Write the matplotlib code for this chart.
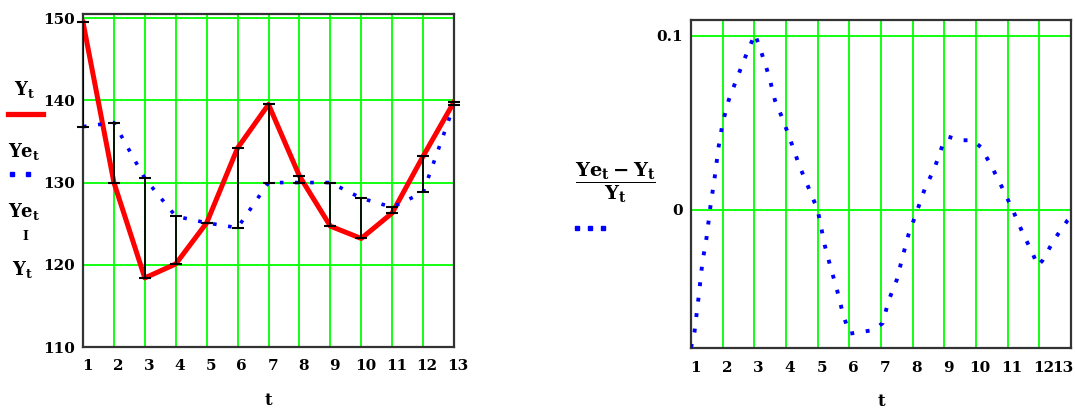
import matplotlib.pyplot as plt
import matplotlib.transforms as mtransforms
from matplotlib.lines import Line2D

t = [1, 2, 3, 4, 5, 6, 7, 8, 9, 10, 11, 12, 13]
Y = [149.5, 130.0, 118.4, 120.1, 125.1, 134.2, 139.5, 130.8, 124.7, 123.2, 126.3, 133.2, 139.8]
Ye = [136.8, 137.3, 130.5, 125.9, 125.1, 124.5, 130.0, 130.0, 130.0, 128.1, 127.0, 128.8, 139.4]

# errore relativo (Ye_t - Y_t) / Y_t, punti letti lungo la curva di destra
t_rel = [1.00, 1.11, 1.24, 1.36, 1.49, 1.62, 1.75, 1.87, 2.00, 2.19, 2.46, 2.72, 3.02,
         3.23, 3.46, 3.65, 3.90, 4.18, 4.43, 4.73, 5.00, 5.22, 5.41, 5.60, 5.79, 6.00,
         6.36, 6.74, 7.05, 7.24, 7.50, 7.68, 7.87, 8.13, 8.38, 8.69, 8.94, 9.13, 9.50,
         9.89, 10.16, 10.52, 10.85, 11.16, 11.47, 11.79, 11.95, 12.10, 12.47, 12.89, 13.00]
err_rel = [-0.079, -0.070, -0.050, -0.030, -0.016, 0.003, 0.019, 0.036, 0.050, 0.063, 0.076,
           0.088, 0.101, 0.090, 0.077, 0.063, 0.052, 0.038, 0.025, 0.012, 0.000, -0.020,
           -0.033, -0.045, -0.059, -0.071, -0.070, -0.069, -0.065, -0.052, -0.040, -0.027,
           -0.014, -0.001, 0.012, 0.024, 0.037, 0.042, 0.040, 0.040, 0.036, 0.024, 0.012,
           0.000, -0.013, -0.025, -0.032, -0.029, -0.017, -0.006, -0.004]

# etichette degli assi
y1_ticks = [110, 120, 130, 140, 150]
y2_ticks = [0, 0.1]
y2_labels = ['0', '0.1']

VERDE = '#00ff00'
ROSSO = '#ff0000'
BLU = '#0000ff'

plt.rcParams['font.family'] = ['DejaVu Serif']
plt.rcParams['font.weight'] = 'bold'
plt.rcParams['mathtext.fontset'] = 'dejavuserif'

W, H = 1075, 411
fig = plt.figure(figsize=(W / 100, H / 100), dpi=100)


def px(x, y):
    # da pixel dell'immagine a coordinate della figura
    return x / W, 1 - y / H


ax1 = fig.add_axes([83 / W, 1 - 347 / H, 371 / W, 333 / H])
ax2 = fig.add_axes([691 / W, 1 - 348 / H, 380 / W, 328 / H])

spost = mtransforms.ScaledTranslation(3 / 72, 0, fig.dpi_scale_trans)


def stile_assi(ax, yticks, ylabels):
    ax.set_xlim(1, 13)
    ax.set_xticks(t)
    ax.set_yticks(yticks)
    ax.set_yticklabels(ylabels)
    ax.grid(True, color=VERDE, lw=1.3)
    ax.set_axisbelow(True)
    ax.tick_params(axis='x', length=0, labelsize=11, pad=9)
    ax.tick_params(axis='y', length=0, labelsize=11, pad=6)
    for lab in ax.get_xticklabels():
        lab.set_transform(lab.get_transform() + spost)
    for s in ax.spines.values():
        s.set_color('#333333')
        s.set_linewidth(1.6)
    ax.set_xlabel('t', fontsize=12, fontweight='bold', labelpad=13)


# grafico di sinistra
ax1.plot(t, Y, color=ROSSO, lw=3.6, solid_joinstyle='round', zorder=3)
ax1.plot(t, Ye, color=BLU, lw=2.6, ls=(0, (1, 3.2)), dash_capstyle='butt', zorder=3)
ax1.vlines(t, [min(a, b) for a, b in zip(Y, Ye)], [max(a, b) for a, b in zip(Y, Ye)],
           colors='k', lw=1.3, zorder=4)
ax1.plot(t, Y, ls='none', marker='_', ms=8, mew=1.5, color='k', clip_on=False, zorder=4)
ax1.plot(t, Ye, ls='none', marker='_', ms=8, mew=1.5, color='k', clip_on=False, zorder=4)
ax1.set_ylim(110, 150.5)
stile_assi(ax1, y1_ticks, [str(v) for v in y1_ticks])

# grafico di destra
ax2.plot(t_rel, err_rel, color=BLU, lw=2.8, ls=(0, (1, 3.0)), dash_capstyle='butt', zorder=3)
ax2.set_ylim(-0.0792, 0.109)
stile_assi(ax2, y2_ticks, y2_labels)
# l'ultima etichetta (13) va allineata a destra per non uscire dalla figura
ultima = ax2.get_xticklabels()[-1]
ultima.set_ha('right')
ultima.set_transform(ax2.get_xaxis_transform() +
                     mtransforms.ScaledTranslation(2 / 72, -9 / 72, fig.dpi_scale_trans))

# legenda di sinistra in stile Mathcad
fig.text(*px(24, 90), r'$\mathbf{Y_t}$', fontsize=13, ha='center', va='center')
fig.add_artist(Line2D([8 / W, 43 / W], [1 - 114 / H] * 2, color=ROSSO, lw=3.8))
fig.text(*px(24, 151), r'$\mathbf{Ye_t}$', fontsize=13, ha='center', va='center')
fig.add_artist(Line2D([12 / W, 28 / W], [1 - 174 / H] * 2, ls='none', marker='s',
                      ms=3.2, color=BLU))
fig.text(*px(24, 211), r'$\mathbf{Ye_t}$', fontsize=13, ha='center', va='center')
fig.text(*px(25, 236), 'I', fontsize=9, ha='center', va='center')
fig.text(*px(22, 270), r'$\mathbf{Y_t}$', fontsize=13, ha='center', va='center')

# legenda di destra
fig.text(*px(615, 183), r'$\dfrac{\mathbf{Ye_t - Y_t}}{\mathbf{Y_t}}$', fontsize=14,
         ha='center', va='center')
fig.add_artist(Line2D([577 / W, 590 / W, 603 / W], [1 - 228 / H] * 3, ls='none',
                      marker='s', ms=3.2, color=BLU))

fig.savefig('out.png', dpi=100)
